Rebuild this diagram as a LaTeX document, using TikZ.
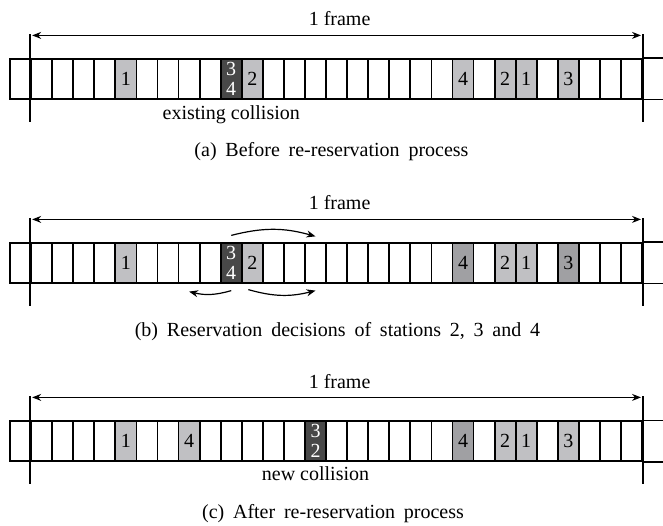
\documentclass[tikz,border=0pt]{standalone}
\usepackage{fontspec}
\setmainfont{Liberation Serif}
\usetikzlibrary{arrows.meta}
\definecolor{slotlight}{RGB}{192,192,195}
\definecolor{slotmid}{RGB}{160,160,163}
\definecolor{slotdark}{RGB}{72,72,72}
\newcommand{\capfont}{\fontsize{10}{12}\selectfont\spaceskip=4.4pt plus 1pt\relax}

\begin{document}
\begin{tikzpicture}[x=0.5pt, y=0.5pt,
        font=\fontsize{10}{10}\selectfont,
        slot/.style={draw, line width=0.9pt, minimum width=10.535pt, minimum height=19.7pt, inner sep=0pt},
        marker/.style={line width=0.7pt},
        span/.style={line width=0.6pt, {Stealth[length=4.5pt,width=3.5pt]}-{Stealth[length=4.5pt,width=3.5pt]}},
        move/.style={line width=0.6pt, -{Stealth[length=4.5pt,width=3.5pt]}},
        caption/.style={anchor=base, font=\capfont}]
        \useasboundingbox (0, 0) rectangle (663, 525);

        \foreach \row/\y in {a/446, b/262, c/84} {
            \foreach \i in {0,...,29} {
                \pgfmathsetmacro{\x}{20.535 + 21.07*\i}
                \node[slot] (\row\i) at (\x, \y) {};
            }
            \draw[line width=0.9pt] (\row29.north east) -- ++(25, 0);
            \draw[line width=0.9pt] (\row29.south east) -- ++(25, 0);
            \draw[marker] ([yshift=12pt]\row1.north west) -- ([yshift=-11pt]\row1.south west);
            \draw[marker] ([yshift=12pt]\row29.north east) -- ([yshift=-11pt]\row29.south east);
            \coordinate (\row-left) at ([yshift=11.5pt]\row1.north west);
            \coordinate (\row-right) at ([yshift=11.5pt]\row29.north east);
            \draw[span, shorten <=1pt, shorten >=1pt] (\row-left) -- (\row-right)
                node[midway, anchor=base, xshift=1.5pt, yshift=4.7pt] (\row-frame) {1 frame};
        }

        \foreach \row/\i/\n/\c in {a/5/1/slotlight, a/11/2/slotlight, a/21/4/slotlight, a/23/2/slotlight, a/24/1/slotlight, a/26/3/slotlight,
                b/5/1/slotlight, b/11/2/slotlight, b/21/4/slotmid, b/23/2/slotlight, b/24/1/slotlight, b/26/3/slotmid,
                c/5/1/slotlight, c/8/4/slotlight, c/21/4/slotmid, c/23/2/slotlight, c/24/1/slotlight, c/26/3/slotlight}
            \node[slot, fill=\c] (\row-r\i) at (\row\i) {\n};

        \node[slot, fill=slotdark, text=white, align=center] (a-r10) at (a10) {3\\4};
        \node[slot, fill=slotdark, text=white, align=center] (b-r10) at (b10) {3\\4};
        \node[slot, fill=slotdark, text=white, align=center] (c-r14) at (c14) {3\\2};

        \node[anchor=base] (a-note) at ([yshift=-9.8pt]a10.south) {existing collision};
        \node[anchor=base] (c-note) at ([yshift=-9.5pt]c14.south) {new collision};

        \draw[move] ([yshift=3.5pt]b-r10.north) to[bend left=15] ([yshift=3pt]b14.north);
        \draw[move] ([yshift=-3.5pt]b-r10.south) to[bend left=15] ([yshift=-4pt]b8.south);
        \draw[move] ([xshift=-2pt, yshift=-3pt]b-r11.south) to[bend right=15] ([yshift=-3.5pt]b14.south);

        \node[caption] (a-cap) at (331.5, 368.3) {(a) Before re-reservation process};
        \node[caption] (b-cap) at (337.5, 188.3) {(b) Reservation decisions of stations 2, 3 and 4};
        \node[caption] (c-cap) at (333, 6.7) {(c) After re-reservation process};
    \end{tikzpicture}
\end{document}
